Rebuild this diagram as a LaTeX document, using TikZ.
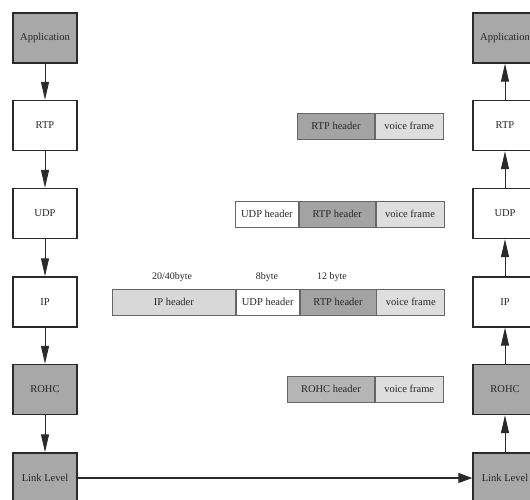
\documentclass[tikz,border=0pt]{standalone}
\usepackage{fontspec}
\setmainfont{Liberation Serif}
\usetikzlibrary{arrows.meta,positioning}
\definecolor{layerdark}{HTML}{A8A8A8}
\definecolor{hdrdark}{HTML}{A3A3A3}
\definecolor{rohcfill}{HTML}{B5B5B5}
\definecolor{lightfill}{HTML}{DEDEDE}
\definecolor{ipfill}{HTML}{D8D8D8}
\definecolor{edge}{HTML}{2A2A2A}
\begin{document}
\begin{tikzpicture}[x=1pt,y=-1pt,
  layer/.style={draw=edge,line width=1.4pt,minimum width=64pt,minimum height=50pt,inner sep=0pt,font=\fontsize{10.5}{12}\selectfont,text=black!85},
  dark/.style={layer,fill=layerdark},
  light/.style={layer,fill=white},
  pkt/.style={draw=black!60,line width=0.8pt,minimum height=26pt,inner sep=0pt,anchor=west,font=\fontsize{10.5}{12}\selectfont,text=black!85},
  lbl/.style={font=\fontsize{10}{11}\selectfont,text=black!85,inner sep=0pt},
  flow/.style={draw=edge,line width=1pt,-{Triangle[length=18pt,width=8pt]}},
  link/.style={draw=edge,line width=1.2pt,-{Triangle[length=14pt,width=10pt]}}]
\useasboundingbox (0,0) rectangle (530,500);
% left stack
\node[dark]  (la) at (45,38)    {Application};
\node[light] (lr) at (45,125.5) {RTP};
\node[light] (lu) at (45,213.5) {UDP};
\node[light] (li) at (45,302)   {IP};
\node[dark]  (lo) at (45,389.5) {ROHC};
\node[dark]  (ll) at (45,478)   {Link Level};
% right stack
\node[dark]  (ra) at (505,38)    {Application};
\node[light] (rr) at (505,125.5) {RTP};
\node[light] (ru) at (505,213.5) {UDP};
\node[light] (ri) at (505,302)   {IP};
\node[dark]  (ro) at (505,389.5) {ROHC};
\node[dark]  (rl) at (505,478)   {Link Level};
% arrows
\draw[flow] (la) -- (lr);
\draw[flow] (lr) -- (lu);
\draw[flow] (lu) -- (li);
\draw[flow] (li) -- (lo);
\draw[flow] (lo) -- (ll);
\draw[flow] (rl) -- (ro);
\draw[flow] (ro) -- (ri);
\draw[flow] (ri) -- (ru);
\draw[flow] (ru) -- (rr);
\draw[flow] (rr) -- (ra);
\draw[link] (ll) -- (rl);
% RTP row
\node[pkt,fill=hdrdark,minimum width=77pt] (r1h) at (297,126) {RTP header};
\node[pkt,fill=lightfill,minimum width=68pt] (r1v) at (r1h.east) {voice frame};
% UDP row
\node[pkt,fill=white,minimum width=63pt] (u2u) at (235,214) {UDP header};
\node[pkt,fill=hdrdark,minimum width=76pt] (u2r) at (u2u.east) {RTP header};
\node[pkt,fill=lightfill,minimum width=68pt] (u2v) at (u2r.east) {voice frame};
% IP row
\node[pkt,fill=ipfill,minimum width=123pt] (i3i) at (112,302) {IP header};
\node[pkt,fill=white,minimum width=63pt] (i3u) at (i3i.east) {UDP header};
\node[pkt,fill=hdrdark,minimum width=76pt] (i3r) at (i3u.east) {RTP header};
\node[pkt,fill=lightfill,minimum width=68pt] (i3v) at (i3r.east) {voice frame};
\node[lbl] (s1) at (172,277) {20/40byte};
\node[lbl] (s2) at (267,277) {8byte};
\node[lbl] (s3) at (332,277) {12 byte};
% ROHC row
\node[pkt,fill=rohcfill,minimum width=87pt] (o4h) at (287,389) {ROHC header};
\node[pkt,fill=lightfill,minimum width=68pt] (o4v) at (o4h.east) {voice frame};
\end{tikzpicture}
\end{document}
